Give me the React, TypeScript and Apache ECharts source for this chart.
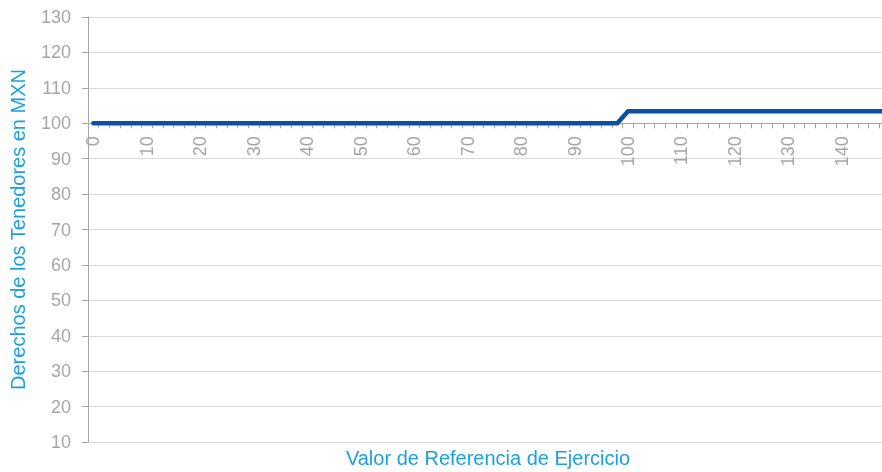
import React, { useEffect, useRef } from "react";
import * as echarts from "echarts";

const categories: string[] = [
  "0", "2", "4", "6", "8", "10", "12", "14", "16", "18",
  "20", "22", "24", "26", "28", "30", "32", "34", "36", "38",
  "40", "42", "44", "46", "48", "50", "52", "54", "56", "58",
  "60", "62", "64", "66", "68", "70", "72", "74", "76", "78",
  "80", "82", "84", "86", "88", "90", "92", "94", "96", "98",
  "100", "102", "104", "106", "108", "110", "112", "114", "116", "118",
  "120", "122", "124", "126", "128", "130", "132", "134", "136", "138",
  "140", "142", "144", "146", "148",
];

const holderRights: number[] = [
  100, 100, 100, 100, 100, 100, 100, 100, 100, 100,
  100, 100, 100, 100, 100, 100, 100, 100, 100, 100,
  100, 100, 100, 100, 100, 100, 100, 100, 100, 100,
  100, 100, 100, 100, 100, 100, 100, 100, 100, 100,
  100, 100, 100, 100, 100, 100, 100, 100, 100, 100,
  103.4, 103.4, 103.4, 103.4, 103.4, 103.4, 103.4, 103.4, 103.4, 103.4,
  103.4, 103.4, 103.4, 103.4, 103.4, 103.4, 103.4, 103.4, 103.4, 103.4,
  103.4, 103.4, 103.4, 103.4, 103.4,
];

const yMin = 10;
const yMax = 130;
const yStep = 10;
const xCross = 100;

const xTitle = "Valor de Referencia de Ejercicio";
const yTitle = "Derechos de los Tenedores en MXN";

const FONT = '"Liberation Sans", Arial, sans-serif';
const GRAY = "#A6A6A6";
const BLUE_TEXT = "#1BA1E2";
const LINE = "#0C50A0";

export default function App() {
  const ref = useRef<HTMLDivElement>(null);
  useEffect(() => {
    if (!ref.current) return;
    const chart = echarts.init(ref.current, undefined, { renderer: "svg" });
    const top = 17;
    const bottom = 30;
    const height = 472 - top - bottom;
    const crossY = top + (height * (yMax - xCross)) / (yMax - yMin);
    const offset = -(472 - bottom - crossY);
    chart.setOption({
      animation: false,
      textStyle: { fontFamily: FONT },
      grid: { left: 86, right: 0, top, bottom, containLabel: false },
      xAxis: {
        type: "category",
        data: categories,
        boundaryGap: true,
        offset,
        axisLine: { show: true, lineStyle: { color: GRAY, width: 1 } },
        axisTick: { show: true, interval: 0, length: 5, lineStyle: { color: GRAY } },
        axisLabel: {
          interval: 4,
          rotate: 90,
          margin: 13,
          color: GRAY,
          fontSize: 18,
          fontFamily: FONT,
        },
        splitLine: { show: false },
      },
      yAxis: {
        type: "value",
        min: yMin,
        max: yMax,
        interval: yStep,
        name: yTitle,
        nameLocation: "middle",
        nameRotate: 90,
        nameGap: 60,
        nameTextStyle: { color: BLUE_TEXT, fontSize: 20, fontFamily: FONT },
        axisLine: { show: true, lineStyle: { color: GRAY, width: 1 } },
        axisTick: { show: true, length: 6, lineStyle: { color: GRAY } },
        axisLabel: { color: GRAY, fontSize: 18, margin: 17, fontFamily: FONT },
        splitLine: { show: true, lineStyle: { color: "#D9D9D9", width: 1 } },
      },
      graphic: [
        {
          type: "text",
          x: 488,
          y: 458,
          style: {
            text: xTitle,
            fill: BLUE_TEXT,
            font: `20px ${FONT}`,
            textAlign: "center",
            textVerticalAlign: "middle",
          },
        },
      ],
      series: [
        {
          type: "line",
          data: holderRights,
          showSymbol: false,
          symbol: "none",
          lineStyle: { color: LINE, width: 4.5, cap: "round", join: "round" },
          itemStyle: { color: LINE },
        },
      ],
    });
    return () => chart.dispose();
  }, []);
  return (
    <div
      ref={ref}
      style={{ position: "fixed", left: 0, top: 0, width: 890, height: 472 }}
    />
  );
}
